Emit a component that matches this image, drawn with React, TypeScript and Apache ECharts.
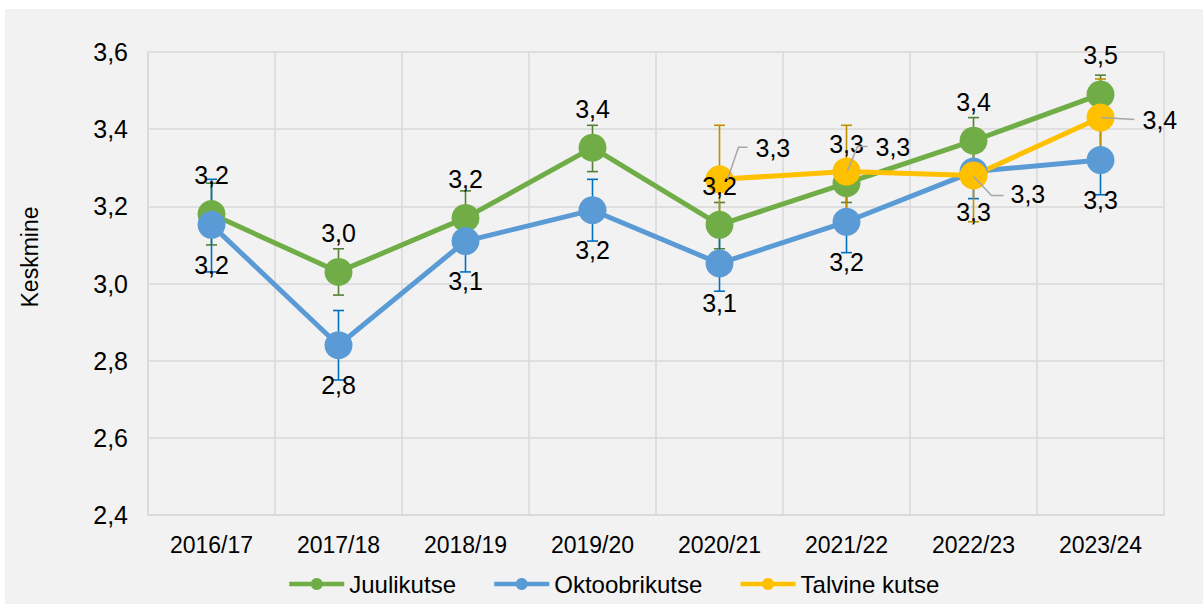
import React, { useEffect, useRef } from 'react';
import * as echarts from 'echarts';

const categories = ['2016/17', '2017/18', '2018/19', '2019/20', '2020/21', '2021/22', '2022/23', '2023/24'];
const yTicks = { min: 2.4, max: 3.6, interval: 0.2 };
const yAxisTitle = 'Keskmine';

const juuli = [3.18, 3.03, 3.17, 3.352, 3.152, 3.26, 3.37, 3.49];
const juuliLow = [3.10, 2.97, 3.10, 3.29, 3.09, 3.21, 3.31, 3.44];
const juuliHigh = [3.26, 3.09, 3.24, 3.41, 3.21, 3.31, 3.43, 3.54];

const okt = [3.152, 2.84, 3.11, 3.19, 3.052, 3.16, 3.29, 3.32];
const oktLow = [3.03, 2.75, 3.03, 3.11, 2.98, 3.08, 3.22, 3.23];
const oktHigh = [3.27, 2.93, 3.19, 3.27, 3.13, 3.24, 3.36, 3.41];

const talv: (number | null)[] = [null, null, null, null, 3.27, 3.29, 3.28, 3.43];
const talvLow: (number | null)[] = [null, null, null, null, 3.13, 3.19, 3.16, 3.33];
const talvHigh: (number | null)[] = [null, null, null, null, 3.41, 3.41, 3.40, 3.53];

const seriesNames = ['Juulikutse', 'Oktoobrikutse', 'Talvine kutse'];

// leader-line styling for the "Talvine kutse" labels (pixel offsets from the point)
const talvLeader: any[] = [
  null, null, null, null,
  { path: [[8, 0], [19, -32], [28, -32]], text: [36, -31] },
  { path: [[1, -1], [11, -25], [21, -25]], text: [29, -25] },
  { path: [[0, 1], [18, 20], [30, 20]], text: [37, 19] },
  { path: [[1, 0], [34, 2]], text: [42, 2] },
];

const FONT = "'Liberation Sans', Arial, sans-serif";
const fmt = (v: number) => v.toFixed(1).replace('.', ',');

function errorSeries(name: string, low: (number | null)[], high: (number | null)[], color: string) {
  const data: number[][] = [];
  low.forEach((l, i) => {
    if (l != null && high[i] != null) data.push([i, l as number, high[i] as number]);
  });
  return {
    type: 'custom',
    name,
    silent: true,
    z: 1,
    data,
    encode: { x: 0, y: [1, 2] },
    renderItem: (_p: any, api: any) => {
      const x = api.value(0);
      const lo = api.coord([x, api.value(1)]);
      const hi = api.coord([x, api.value(2)]);
      const w = 5.5;
      const st = { stroke: color, lineWidth: 1.6 };
      return {
        type: 'group',
        children: [
          { type: 'line', shape: { x1: lo[0], y1: lo[1], x2: hi[0], y2: hi[1] }, style: st },
          { type: 'line', shape: { x1: lo[0] - w, y1: lo[1], x2: lo[0] + w, y2: lo[1] }, style: st },
          { type: 'line', shape: { x1: hi[0] - w, y1: hi[1], x2: hi[0] + w, y2: hi[1] }, style: st },
        ],
      };
    },
  };
}

export default function App() {
  const ref = useRef<HTMLDivElement>(null);
  useEffect(() => {
    if (!ref.current) return;
    const chart = echarts.init(ref.current, null, { renderer: 'svg' });
    const labelStyle = { fontSize: 25, fontFamily: FONT, color: '#000' };
    const lineSeries = (name: string, data: (number | null)[], color: string, offY: number | null) => ({
      type: 'line',
      name,
      data,
      z: 3,
      symbol: 'circle',
      symbolSize: 28,
      showSymbol: true,
      connectNulls: false,
      lineStyle: { color, width: 5 },
      itemStyle: { color },
      label: offY == null
        ? { show: false }
        : {
            show: true,
            position: 'inside',
            offset: [0, offY],
            formatter: (p: any) => fmt(p.value),
            ...labelStyle,
          },
      emphasis: { disabled: true },
    });

    const talvLabelData: number[][] = [];
    talv.forEach((v, i) => { if (v != null) talvLabelData.push([i, v]); });

    chart.setOption({
      animation: false,
      backgroundColor: '#f2f2f2',
      textStyle: { fontFamily: FONT },
      grid: { left: 143, top: 43, right: 39, bottom: 89, containLabel: false },
      graphic: [
        {
          type: 'text',
          x: 25,
          y: 248,
          rotation: Math.PI / 2,
          style: {
            text: yAxisTitle,
            fontSize: 23,
            fontFamily: FONT,
            fill: '#000',
            align: 'center',
            verticalAlign: 'middle',
          },
        },
      ],
      legend: {
        data: seriesNames,
        top: 558,
        left: 277,
        itemWidth: 55,
        itemHeight: 15,
        itemGap: 36,
        lineStyle: { width: 4.5 },
        textStyle: { fontSize: 24, fontFamily: FONT, color: '#000' },
      },
      xAxis: {
        type: 'category',
        data: categories,
        boundaryGap: true,
        axisLine: { lineStyle: { color: '#d9d9d9', width: 1.5 } },
        axisTick: { show: false },
        splitLine: { show: true, lineStyle: { color: '#d9d9d9', width: 1.5 } },
        axisLabel: { fontSize: 23, fontFamily: FONT, color: '#000', margin: 18 },
      },
      yAxis: {
        type: 'value',
        min: yTicks.min,
        max: yTicks.max,
        interval: yTicks.interval,
        axisLine: { show: true, lineStyle: { color: '#d9d9d9', width: 1.5 } },
        axisTick: { show: false },
        splitLine: { show: true, lineStyle: { color: '#d9d9d9', width: 1.5 } },
        axisLabel: { fontSize: 25, fontFamily: FONT, color: '#000', margin: 20, formatter: (v: number) => fmt(v) },
      },
      series: [
        errorSeries('errJ', juuliLow, juuliHigh, '#538135'),
        errorSeries('errO', oktLow, oktHigh, '#0070c0'),
        errorSeries('errT', talvLow, talvHigh, '#bf9000'),
        lineSeries(seriesNames[0], juuli, '#70ad47', -39),
        lineSeries(seriesNames[1], okt, '#5b9bd5', 40),
        lineSeries(seriesNames[2], talv, '#ffc000', null),
        {
          type: 'custom',
          name: 'talvLabels',
          silent: true,
          z: 10,
          data: talvLabelData,
          encode: { x: 0, y: 1 },
          renderItem: (_p: any, api: any) => {
            const i = api.value(0);
            const v = api.value(1);
            const c = api.coord([i, v]);
            const cfg = talvLeader[i];
            if (!cfg) return null;
            return {
              type: 'group',
              children: [
                {
                  type: 'polyline',
                  shape: { points: cfg.path.map((p: number[]) => [c[0] + p[0], c[1] + p[1]]) },
                  style: { stroke: '#a6a6a6', lineWidth: 1.5, fill: 'none' },
                },
                {
                  type: 'text',
                  x: c[0] + cfg.text[0],
                  y: c[1] + cfg.text[1],
                  style: {
                    text: fmt(v),
                    fontSize: 25,
                    fontFamily: FONT,
                    fill: '#000',
                    align: 'left',
                    verticalAlign: 'middle',
                  },
                },
              ],
            };
          },
        },
      ],
    });
    return () => chart.dispose();
  }, []);

  return (
    <div style={{ position: 'fixed', left: 0, top: 0, width: 1203, height: 604, background: '#fff' }}>
      <div ref={ref} style={{ position: 'absolute', left: 5, top: 9, width: 1198, height: 595 }} />
    </div>
  );
}
